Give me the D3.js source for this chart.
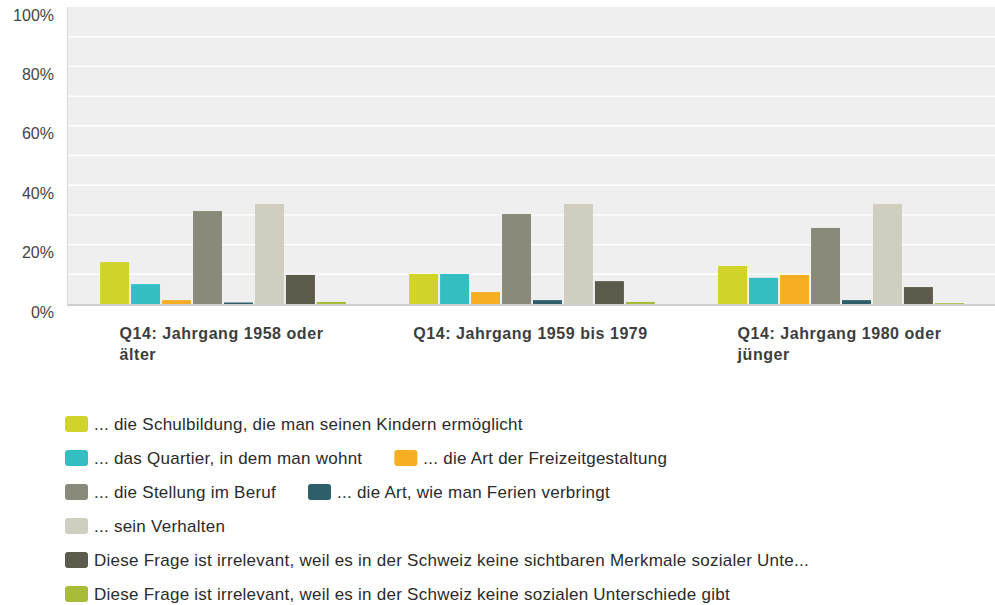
<!DOCTYPE html>
<html>
<head>
<meta charset="utf-8">
<script src="https://cdn.jsdelivr.net/npm/d3@7"></script>
<style>
  body { margin: 0; background: #fff; }
  svg { display: block; font-family: Arial, "Liberation Sans", sans-serif; }
</style>
</head>
<body>
<svg id="chart" width="995" height="605"></svg>
<script>
// groups on the x axis (\n = line break as in the original labels)
var groups = ["Q14: Jahrgang 1958 oder\nälter", "Q14: Jahrgang 1959 bis 1979", "Q14: Jahrgang 1980 oder\njünger"];

// answer options (series)
var seriesNames = [
  "... die Schulbildung, die man seinen Kindern ermöglicht",
  "... das Quartier, in dem man wohnt",
  "... die Art der Freizeitgestaltung",
  "... die Stellung im Beruf",
  "... die Art, wie man Ferien verbringt",
  "... sein Verhalten",
  "Diese Frage ist irrelevant, weil es in der Schweiz keine sichtbaren Merkmale sozialer Unte...",
  "Diese Frage ist irrelevant, weil es in der Schweiz keine sozialen Unterschiede gibt"
];
var seriesColors = ["#d0d42a", "#34bec1", "#f7ae22", "#8a8a7b", "#2e5e6a", "#d0cec0", "#5c5b4b", "#a9bc3a"];

// percent values, one array per group, in series order
var valsOld   = [14.1, 6.7, 1.3, 31.3, 0.5, 33.7, 9.8, 0.7];
var valsMid   = [10.1, 10.1, 4.0, 30.3, 1.3, 33.7, 7.7, 0.7];
var valsYoung = [12.8, 8.8, 9.8, 25.6, 1.3, 33.7, 5.7, 0.3];
var values = [valsOld, valsMid, valsYoung];

var yTicks = [0, 20, 40, 60, 80, 100];
var yGrid = d3.range(0, 101, 10);

var svg = d3.select("#chart");
var pLeft = 67, pRight = 995, pTop = 7, pBottom = 304;

var y = d3.scaleLinear().domain([0, 100]).range([pBottom, pTop]);
var x0 = d3.scaleBand().domain(groups).range([68.5, 995.5]);
var x1 = d3.scaleBand().domain(d3.range(seriesNames.length))
  .range([0, x0.bandwidth()]).paddingInner(0.065).paddingOuter(1.02);

// panel
svg.append("rect").attr("x", pLeft).attr("y", pTop)
  .attr("width", pRight - pLeft).attr("height", pBottom - pTop)
  .attr("fill", "#efefef");
svg.append("line").attr("x1", pLeft + 0.5).attr("x2", pLeft + 0.5)
  .attr("y1", pTop).attr("y2", pBottom)
  .attr("stroke", "#dcdcdc").attr("stroke-width", 1);

// grid lines
svg.append("g").selectAll("line").data(yGrid.filter(d => d > 0 && d < 100)).enter()
  .append("line")
  .attr("x1", pLeft + 1).attr("x2", pRight)
  .attr("y1", d => y(d)).attr("y2", d => y(d))
  .attr("stroke", "#fff").attr("stroke-width", 1.4);

// y tick labels
svg.append("g").selectAll("text").data(yTicks).enter()
  .append("text")
  .attr("x", 54).attr("y", d => y(d) + 13.5)
  .attr("text-anchor", "end")
  .attr("font-size", 16).attr("fill", "#444")
  .text(d => d + "%");

// bars
var gBars = svg.append("g").selectAll("g").data(groups).enter()
  .append("g")
  .attr("transform", d => "translate(" + x0(d) + ",0)");
gBars.selectAll("rect")
  .data((d, gi) => values[gi].map((v, si) => ({ v: v, si: si })))
  .enter().append("rect")
  .attr("x", d => x1(d.si))
  .attr("width", x1.bandwidth())
  .attr("y", d => y(d.v))
  .attr("height", d => pBottom - y(d.v))
  .attr("fill", d => seriesColors[d.si]);

// baseline
svg.append("line").attr("x1", pLeft).attr("x2", pRight)
  .attr("y1", pBottom + 1).attr("y2", pBottom + 1)
  .attr("stroke", "#cfcfcf").attr("stroke-width", 2);

// x labels: lines left aligned, block centred on group
groups.forEach(function(label) {
  var t = svg.append("text")
    .attr("font-size", 16).attr("font-weight", "bold")
    .attr("letter-spacing", "0.55px").attr("fill", "#3d3d3d");
  var spans = label.split("\n").map(function(l, i) {
    return t.append("tspan").attr("y", 339 + i * 21).text(l);
  });
  var w = d3.max(spans, s => s.node().getComputedTextLength());
  var cx = x0(label) + x0.bandwidth() / 2 - 1.5;
  spans.forEach(s => s.attr("x", cx - w / 2));
});

// legend, flowing left to right
var legX0 = 65, legMax = 790, legGap = 32, rowY = 424, rowStep = 34;
var lx = legX0;
var legend = svg.append("g");
seriesNames.forEach(function(name, i) {
  var g = legend.append("g");
  var txt = g.append("text").attr("font-size", 17).attr("fill", "#2b2b2b")
    .attr("letter-spacing", "0.25px")
    .attr("dy", "0.35em").text(name);
  var tw = txt.node().getComputedTextLength();
  if (lx > legX0 && lx + 29 + tw > legMax) {
    lx = legX0;
    rowY += rowStep;
  }
  g.append("rect").attr("x", lx).attr("y", rowY - 8)
    .attr("width", 23).attr("height", 16).attr("rx", 3)
    .attr("fill", seriesColors[i]);
  txt.attr("x", lx + 29).attr("y", rowY);
  lx += 29 + tw + legGap;
});
</script>
</body>
</html>
